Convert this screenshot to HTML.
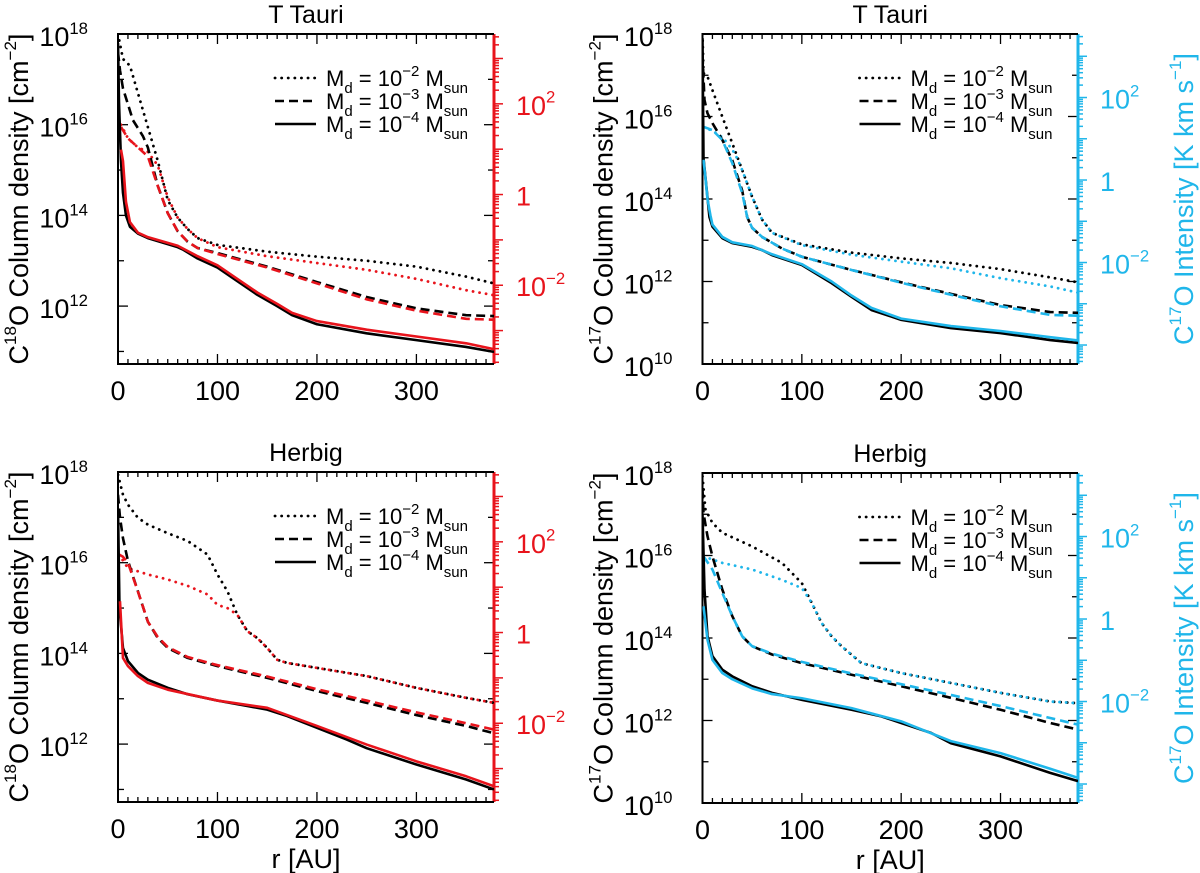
<!DOCTYPE html>
<html><head><meta charset="utf-8"><style>
html,body{margin:0;padding:0;background:#fff;}
svg{display:block;font-family:"Liberation Sans",Arial,sans-serif;}
</style></head><body>
<svg id="fig" width="1200" height="873" viewBox="0 0 1200 873" xmlns="http://www.w3.org/2000/svg"></svg>
<script>
// ---- data (r in AU, value = log10 of column density on left axis scale) ----
const xTickLabels = ["0","100","200","300"];
const xTickValues = [0,100,200,300];
const intensityTickValues = [2,0,-2];
const intensityTickLabels = ["10|2","1","10|−2"];
const legendLabels = ["−2","−3","−4"];

const tlSolid = [[0,17.8],[1,16.5],[3,15.2],[5,14.5],[8,14.0],[12,13.75],[20,13.6],[30,13.5],[45,13.4],[60,13.3],[65,13.25],[80,13.05],[100,12.85],[120,12.55],[140,12.25],[160,12.0],[175,11.8],[200,11.6],[250,11.4],[300,11.25],[350,11.1],[378,10.99]];
const tlSolidC = [[3,15.45],[5,15.2],[8,14.3],[12,13.85],[20,13.62],[30,13.52],[60,13.33],[80,13.1],[100,12.9],[120,12.6],[140,12.3],[160,12.05],[175,11.85],[200,11.67],[250,11.48],[300,11.33],[350,11.18],[378,11.05]];
const tlDash = [[0,17.6],[2,17.2],[5,16.8],[15,16.1],[25,15.75],[30,15.5],[40,14.65],[50,14.05],[60,13.65],[70,13.42],[80,13.28],[100,13.17],[150,12.87],[200,12.53],[250,12.2],[300,11.95],[350,11.8],[378,11.78]];
const tlDashC = [[3,15.95],[10,15.7],[20,15.5],[30,15.3],[40,14.65],[50,14.05],[60,13.65],[70,13.42],[80,13.28],[100,13.15],[150,12.85],[200,12.5],[250,12.15],[300,11.9],[350,11.72],[378,11.7]];
const tlDot = [[0,18],[5,17.45],[12,17.3],[20,16.7],[30,15.95],[40,15.2],[50,14.34],[60,13.95],[70,13.7],[80,13.5],[100,13.35],[150,13.2],[200,13.09],[250,13.0],[300,12.87],[350,12.65],[378,12.5]];
const tlDotC = [[3,16.0],[10,15.7],[20,15.5],[30,15.4],[40,15.1],[50,14.4],[60,13.95],[70,13.7],[80,13.5],[100,13.3],[150,13.1],[200,12.95],[250,12.8],[300,12.6],[350,12.35],[378,12.24]];

const trSolid = [[0,17.9],[1,15.0],[7,13.56],[10,13.33],[20,13.05],[30,12.93],[50,12.84],[60,12.76],[70,12.64],[100,12.4],[130,11.96],[150,11.63],[170,11.31],[200,11.07],[250,10.87],[300,10.75],[350,10.58],[378,10.51]];
const trSolidC = [[1,14.95],[3,14.5],[5,14.0],[8,13.6],[10,13.38],[20,13.08],[30,12.95],[50,12.86],[70,12.66],[100,12.42],[130,12.0],[150,11.66],[170,11.36],[200,11.1],[250,10.92],[300,10.8],[350,10.65],[378,10.57]];
const trDash = [[0,17.5],[2,16.4],[5,16.08],[10,15.84],[20,15.43],[30,14.94],[40,14.2],[45,13.56],[50,13.3],[60,13.08],[80,12.8],[100,12.6],[150,12.28],[200,11.98],[250,11.7],[300,11.43],[350,11.26],[378,11.24]];
const trDashC = [[1,15.75],[10,15.67],[20,15.43],[30,14.87],[40,14.14],[45,13.56],[50,13.3],[60,13.08],[80,12.8],[100,12.6],[150,12.28],[200,11.97],[250,11.68],[300,11.4],[350,11.19],[378,11.17]];
const trDot = [[0,18],[1,17.05],[5,16.97],[10,16.64],[20,15.99],[30,15.35],[40,14.7],[50,14.05],[60,13.5],[70,13.18],[100,12.9],[150,12.7],[200,12.56],[250,12.45],[300,12.3],[350,12.1],[378,11.98]];
const trDotC = [[1,15.75],[10,15.65],[20,15.5],[30,15.2],[35,14.98],[40,14.7],[50,14.05],[60,13.5],[70,13.18],[100,12.88],[150,12.65],[200,12.48],[250,12.32],[300,12.08],[350,11.88],[378,11.73]];

const blSolid = [[0,17.2],[1.5,15.0],[5,14.12],[10,13.83],[20,13.57],[30,13.42],[50,13.24],[70,13.1],[100,12.96],[130,12.84],[150,12.76],[170,12.62],[200,12.36],[230,12.1],[250,11.91],[300,11.55],[350,11.22],[378,11.0]];
const blSolidC = [[2,15.15],[5,13.9],[10,13.72],[20,13.5],[30,13.35],[50,13.2],[100,12.96],[150,12.8],[200,12.4],[250,11.99],[300,11.62],[350,11.29],[378,11.07]];
const blDash = [[0,17.5],[2,17.0],[5,16.54],[10,16.04],[20,15.37],[30,14.7],[40,14.34],[50,14.12],[70,13.9],[100,13.72],[150,13.46],[200,13.17],[250,12.91],[300,12.64],[350,12.4],[378,12.24]];
const blDashC = [[1,16.18],[5,16.13],[10,16.0],[20,15.37],[30,14.7],[40,14.36],[50,14.14],[70,13.92],[100,13.74],[150,13.49],[200,13.21],[250,12.96],[300,12.7],[350,12.46],[378,12.32]];
const blDot = [[0,17.94],[5,17.5],[10,17.28],[20,16.99],[30,16.84],[50,16.65],[70,16.48],[90,16.18],[100,15.74],[110,15.37],[120,14.85],[130,14.49],[140,14.34],[150,14.12],[160,13.86],[170,13.79],[200,13.68],[250,13.5],[300,13.24],[350,13.02],[378,12.91]];
const blDotC = [[1,16.18],[10,15.88],[30,15.74],[50,15.63],[70,15.49],[90,15.3],[100,15.07],[110,15.0],[120,14.85],[130,14.49],[140,14.34],[150,14.12],[160,13.86],[170,13.79],[200,13.68],[250,13.5],[300,13.24],[350,13.02],[378,12.91]];

const brSolid = [[0,17.0],[2,15.17],[5,14.05],[10,13.56],[20,13.23],[30,13.07],[50,12.83],[70,12.67],[100,12.5],[150,12.26],[180,12.1],[200,11.94],[230,11.7],[250,11.45],[300,11.13],[350,10.73],[378,10.53]];
const brSolidC = [[1,14.77],[5,13.96],[10,13.47],[20,13.15],[30,13.0],[50,12.78],[70,12.64],[100,12.54],[150,12.3],[200,11.98],[250,11.5],[300,11.21],[350,10.83],[378,10.61]];
const brDash = [[0,17.6],[1,17.03],[5,16.47],[10,15.98],[20,15.17],[30,14.53],[40,14.04],[50,13.8],[70,13.6],[100,13.39],[150,13.11],[200,12.83],[250,12.55],[300,12.26],[350,11.94],[378,11.78]];
const brDashC = [[1,15.98],[10,15.66],[20,15.09],[30,14.53],[40,14.04],[50,13.8],[70,13.62],[100,13.42],[150,13.14],[200,12.88],[250,12.62],[300,12.35],[350,12.06],[378,11.9]];
const brDot = [[0,17.92],[3,17.11],[10,16.79],[20,16.55],[50,16.22],[80,15.82],[100,15.33],[110,14.85],[120,14.36],[130,14.04],[140,13.8],[160,13.39],[180,13.27],[200,13.15],[250,12.91],[300,12.67],[350,12.46],[378,12.42]];
const brDotC = [[1,15.98],[20,15.82],[50,15.66],[80,15.41],[100,15.21],[110,14.85],[120,14.36],[130,14.04],[140,13.8],[160,13.39],[180,13.27],[200,13.15],[250,12.91],[300,12.67],[350,12.46],[378,12.42]];

// ---- layout ----
const svg = document.getElementById('fig');
const NS = 'http://www.w3.org/2000/svg';
const RED = '#e8141c', CYAN = '#1fb6ea';
const OFFSET = 14.46; // log N - log I
const panels = [
 {key:'tl', x0:118, x1:494, y0:34, y1:364, ymax:18, perDec:45.35, col:RED, iso:'18', title:'T Tauri', yl:[18,16,14,12], rtitle:false, xt:false, s:[tlDot,tlDotC,tlDash,tlDashC,tlSolid,tlSolidC]},
 {key:'tr', x0:702.5, x1:1078, y0:34, y1:364, ymax:18, perDec:41.25, col:CYAN, iso:'17', title:'T Tauri', yl:[18,16,14,12,10], rtitle:true, xt:false, s:[trDot,trDotC,trDash,trDashC,trSolid,trSolidC]},
 {key:'bl', x0:118, x1:494, y0:472, y1:802, ymax:18, perDec:45.35, col:RED, iso:'18', title:'Herbig', yl:[18,16,14,12], rtitle:false, xt:true, s:[blDot,blDotC,blDash,blDashC,blSolid,blSolidC]},
 {key:'br', x0:702.5, x1:1078, y0:473, y1:803, ymax:18, perDec:41.25, col:CYAN, iso:'17', title:'Herbig', yl:[18,16,14,12,10], rtitle:true, xt:true, s:[brDot,brDotC,brDash,brDashC,brSolid,brSolidC]}
];
const XMAX = 378;
function el(tag, attrs, parent){const e=document.createElementNS(NS,tag);for(const k in attrs)e.setAttribute(k,attrs[k]);(parent||svg).appendChild(e);return e;}
function supText(parent, x, y, base, sup, anchor, size, color, name){
  const t = el('text',{x:x,y:y,'font-size':size,'text-anchor':anchor||'start',fill:color||'#000'},parent);
  
  
  const a = el('tspan',{},t); a.textContent = base;
  if(sup){const b = el('tspan',{dy:-size*0.45,'font-size':size*0.62},t); b.textContent = sup;}
  return t;
}

panels.forEach(p=>{
  const g = el('g',{});
  
  
  const xs = r => p.x0 + (p.x1-p.x0)*r/XMAX;
  const ys = v => p.y0 + (p.ymax - v)*p.perDec;
  const yI = li => ys(li + OFFSET);
  const ymin = p.ymax - (p.y1-p.y0)/p.perDec;
  const cp = el('clipPath',{id:'clip-'+p.key},g);
  el('rect',{x:p.x0,y:p.y0,width:p.x1-p.x0,height:p.y1-p.y0},cp);
  const tt = el('text',{x:(p.x0+p.x1)/2,y:p.y0-11,'font-size':25,'text-anchor':'middle'},g);
    tt.textContent=p.title;
  for(let r=0;r<=XMAX;r+=10){
    const X = xs(r), L = (r%100===0)?10:5;
    el('line',{x1:X,y1:p.y1,x2:X,y2:p.y1-L,stroke:'#000','stroke-width':1.3},g);
    el('line',{x1:X,y1:p.y0,x2:X,y2:p.y0+L,stroke:'#000','stroke-width':1.3},g);
  }
  xTickValues.forEach((v,i)=>{
    const t = el('text',{x:xs(v),y:p.y1+36,'font-size':27,'text-anchor':'middle'},g);
      t.textContent=xTickLabels[i];
  });
  if(p.xt){
    const t = el('text',{x:(p.x0+p.x1)/2,y:p.y1+66,'font-size':27,'text-anchor':'middle'},g);
      t.textContent='r [AU]';
  }
  for(let d=Math.ceil(ymin); d<=p.ymax; d++){
    const Y = ys(d), L = (d%2===0)?10:6;
    el('line',{x1:p.x0,y1:Y,x2:p.x0+L,y2:Y,stroke:'#000','stroke-width':1.3},g);
    el('line',{x1:p.x1,y1:Y,x2:p.x1-L,y2:Y,stroke:'#000','stroke-width':1.3},g);
  }
  p.yl.forEach(d=>{ supText(g, p.x0-30, ys(d)+12, '10', String(d), 'end', 27, '#000', 'y-tick-label'); });
  const lx = p.x0-90, ly = (p.y0+p.y1)/2;
  const lt = el('text',{x:lx,y:ly,'font-size':27,'text-anchor':'middle',transform:`rotate(-90 ${lx} ${ly})`},g);
   
  let a=el('tspan',{},lt); a.textContent='C';
  a=el('tspan',{dy:-12,'font-size':17},lt); a.textContent=p.iso;
  a=el('tspan',{dy:12},lt); a.textContent='O Column density [cm';
  a=el('tspan',{dy:-12,'font-size':17},lt); a.textContent='−2';
  a=el('tspan',{dy:12},lt); a.textContent=']';
  const ra = el('line',{x1:p.x1,y1:p.y0,x2:p.x1,y2:p.y1,stroke:p.col,'stroke-width':3},g);
   
  const liTop = p.ymax-OFFSET, liBot = ymin-OFFSET;
  for(let d=Math.floor(liBot); d<=Math.ceil(liTop); d++){
    for(let k=1;k<=9;k++){
      const li = d+Math.log10(k); if(li<liBot||li>liTop) continue;
      const Y = yI(li);
      el('line',{x1:p.x1,y1:Y,x2:p.x1+(k===1?9:5),y2:Y,stroke:p.col,'stroke-width':1.5},g);
    }
  }
  intensityTickValues.forEach((v,i)=>{
    const parts = intensityTickLabels[i].split('|');
    supText(g, p.x1+22, yI(v)+11, parts[0], parts[1]||'', 'start', 27, p.col, 'intensity-tick-label');
  });
  if(p.rtitle){
    const rx = p.x1+115, ry=(p.y0+p.y1)/2;
    const rt = el('text',{x:rx,y:ry,'font-size':27,'text-anchor':'middle',fill:p.col,transform:`rotate(-90 ${rx} ${ry})`},g);
     
    let b=el('tspan',{},rt); b.textContent='C';
    b=el('tspan',{dy:-12,'font-size':17},rt); b.textContent='17';
    b=el('tspan',{dy:12},rt); b.textContent='O Intensity [K km s';
    b=el('tspan',{dy:-12,'font-size':17},rt); b.textContent='−1';
    b=el('tspan',{dy:12},rt); b.textContent=']';
  }
  el('path',{d:`M${p.x1},${p.y0}H${p.x0}V${p.y1}H${p.x1}`,fill:'none',stroke:'#000','stroke-width':2},g);
  const styles = [
    {dash:'0.1 6.5', cap:'round', w:2.8, c:'#000', n:'dotted-black'},
    {dash:'0.1 6.5', cap:'round', w:2.8, c:p.col, n:'dotted-colored'},
    {dash:'9 5', cap:'butt', w:2.6, c:'#000', n:'dashed-black'},
    {dash:'9 5', cap:'butt', w:2.6, c:p.col, n:'dashed-colored'},
    {dash:'', cap:'butt', w:2.6, c:'#000', n:'solid-black'},
    {dash:'', cap:'butt', w:2.6, c:p.col, n:'solid-colored'}
  ];
  p.s.forEach((ser,i)=>{
    const st = styles[i];
    const d = ser.map((pt,j)=>(j?'L':'M')+xs(pt[0]).toFixed(2)+','+ys(pt[1]).toFixed(2)).join('');
    const path = el('path',{d:d,fill:'none',stroke:st.c,'stroke-width':st.w,'stroke-linecap':st.cap,'stroke-linejoin':'round','clip-path':`url(#clip-${p.key})`},g);
    if(st.dash) path.setAttribute('stroke-dasharray', st.dash);
    
    
  });
  const lg = el('g',{},g);
   
  [0,1,2].forEach(i=>{
    const Y = p.y0+44+i*23, X0 = p.x0+157;
    const ln = el('line',{x1:X0,y1:Y,x2:X0+41,y2:Y,stroke:'#000','stroke-width':i===0?2.8:2.6,'stroke-linecap':i===0?'round':'butt'},lg);
    if(i===0) ln.setAttribute('stroke-dasharray','0.1 6.5');
    if(i===1) ln.setAttribute('stroke-dasharray','9 5');
     
    const t = el('text',{x:X0+51,y:Y+8,'font-size':22},lg);
     
    let s=el('tspan',{},t); s.textContent='M';
    s=el('tspan',{dy:7,'font-size':15},t); s.textContent='d';
    s=el('tspan',{dy:-7},t); s.textContent=' = 10';
    s=el('tspan',{dy:-10,'font-size':15},t); s.textContent=legendLabels[i];
    s=el('tspan',{dy:10},t); s.textContent=' M';
    s=el('tspan',{dy:7,'font-size':15},t); s.textContent='sun';
  });
});
</script>
</body></html>
